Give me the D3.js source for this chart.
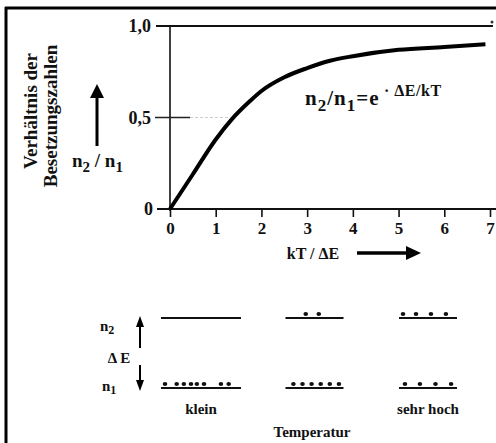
<!DOCTYPE html>
<html>
<head>
<meta charset="utf-8">
<script src="https://cdn.jsdelivr.net/npm/d3@7"></script>
<style>
  body { margin: 0; background: #fff; }
  text { font-family: "Liberation Serif", serif; font-weight: bold; fill: #111; }
</style>
</head>
<body>
<div id="chart"></div>
<script>
// curve n2/n1 against kT/dE
const kT = [0, 0.5, 1, 1.35, 1.75, 2, 2.5, 3, 3.5, 4, 5, 6, 6.9];
const ratio = [0, 0.19, 0.38, 0.49, 0.59, 0.645, 0.72, 0.77, 0.81, 0.835, 0.87, 0.885, 0.9];
const xTicks = [0, 1, 2, 3, 4, 5, 6, 7];
const yTicks = [0, 0.5, 1.0];
const yTickLabels = ["0", "0,5", "1,0"];

// level diagram: temperature groups, dot slots on upper (n2) and lower (n1) level
const groups = ["klein", "mittel", "sehr hoch"];
const groupLabels = ["klein", "", "sehr hoch"];
const upperDots = [[], [2.5, 4.5], [0, 2, 4.3, 6.6]];
const lowerDots = [[0, 1.8, 2.9, 4, 4.9, 6, 8.6, 9.8], [0.6, 2, 3.4, 4.8, 6.2, 7.6], [0.3, 2.6, 5, 7.4]];

const width = 496, height = 443;
const svg = d3.select("#chart").append("svg")
  .attr("width", width).attr("height", height);

// frame (top + left border of the scan)
svg.append("line").attr("x1", 5).attr("x2", width).attr("y1", 8).attr("y2", 8)
  .attr("stroke", "#000").attr("stroke-width", 3);
svg.append("line").attr("x1", 6).attr("x2", 6).attr("y1", 7).attr("y2", height)
  .attr("stroke", "#000").attr("stroke-width", 3);

const x = d3.scaleLinear().domain([0, 7]).range([170, 490]);
const y = d3.scaleLinear().domain([0, 1]).range([209, 26]);

// top line at 1,0
svg.append("line").attr("x1", 156).attr("x2", 493).attr("y1", y(1)).attr("y2", y(1))
  .attr("stroke", "#111").attr("stroke-width", 2);
svg.append("circle").attr("cx", 492).attr("cy", y(1) - 4).attr("r", 1.5).attr("fill", "#333");

// y axis line
svg.append("line").attr("x1", x(0)).attr("x2", x(0)).attr("y1", y(1)).attr("y2", y(0) + 2)
  .attr("stroke", "#111").attr("stroke-width", 1.6);

// 0,5 mark with faint guide
svg.append("line").attr("x1", x(0) - 15).attr("x2", x(0) + 20).attr("y1", y(0.5)).attr("y2", y(0.5))
  .attr("stroke", "#222").attr("stroke-width", 1.5);
svg.append("line").attr("x1", x(0) + 20).attr("x2", x(1.3)).attr("y1", y(0.5)).attr("y2", y(0.5))
  .attr("stroke", "#ccc").attr("stroke-width", 1.2).attr("stroke-dasharray", "3,2");

// x axis
svg.append("line").attr("x1", 157).attr("x2", width).attr("y1", y(0)).attr("y2", y(0))
  .attr("stroke", "#111").attr("stroke-width", 2);
const xAxis = d3.axisBottom(x).tickValues(xTicks).tickFormat(d3.format("d"))
  .tickSize(8).tickSizeOuter(0).tickPadding(5);
const gx = svg.append("g").attr("transform", `translate(0,${y(0)})`).call(xAxis);
gx.select(".domain").remove();
gx.selectAll(".tick line").attr("stroke", "#111").attr("stroke-width", 1.6);
gx.selectAll(".tick text").style("font-size", "17px").attr("fill", "#111")
  .style("font-family", "Liberation Serif, serif").style("font-weight", "bold");

// y tick labels
svg.selectAll(".ylab").data(yTicks).enter().append("text")
  .attr("class", "ylab")
  .attr("x", d => d === 0 ? x(0) - 17 : x(0) - 19)
  .attr("y", d => y(d))
  .attr("dy", "0.35em")
  .attr("text-anchor", "end")
  .style("font-size", "18px")
  .text((d, i) => yTickLabels[i]);

// curve
const pts = kT.map((k, i) => [k, ratio[i]]);
svg.append("path").datum(pts)
  .attr("fill", "none").attr("stroke", "#000").attr("stroke-width", 4)
  .attr("d", d3.line().x(d => x(d[0])).y(d => y(d[1])).curve(d3.curveMonotoneX));

// formula
const f = svg.append("text").attr("x", 305).attr("y", 105)
  .style("font-size", "21px").style("letter-spacing", "1px");
f.append("tspan").text("n");
f.append("tspan").attr("dy", 6).style("font-size", "17px").text("2");
f.append("tspan").attr("dy", -6).text("/n");
f.append("tspan").attr("dy", 6).style("font-size", "17px").text("1");
f.append("tspan").attr("dy", -6).text("=e");
f.append("tspan").attr("dy", -9).style("font-size", "16px").style("letter-spacing", "0.5px").text(" · ΔE/kT");

// y axis title (rotated)
svg.append("text").attr("transform", "translate(37,111) rotate(-90)")
  .attr("text-anchor", "middle").style("font-size", "19px").text("Verhältnis der");
svg.append("text").attr("transform", "translate(57,116) rotate(-90)")
  .attr("text-anchor", "middle").style("font-size", "19px").text("Besetzungszahlen");

// up arrow + n2/n1
svg.append("line").attr("x1", 97).attr("x2", 97).attr("y1", 146).attr("y2", 95)
  .attr("stroke", "#000").attr("stroke-width", 3);
svg.append("path").attr("d", "M90,98 L97,84 L104,98 Z").attr("fill", "#000");
const nl = svg.append("text").attr("x", 72).attr("y", 167).style("font-size", "19px");
nl.append("tspan").text("n");
nl.append("tspan").attr("dy", 5).style("font-size", "15px").text("2");
nl.append("tspan").attr("dy", -5).text(" / n");
nl.append("tspan").attr("dy", 5).style("font-size", "15px").text("1");

// x axis title + arrow
svg.append("text").attr("x", 313).attr("y", 253).attr("dy", "0.35em")
  .attr("text-anchor", "middle").style("font-size", "16px").text("kT / ΔE");
svg.append("line").attr("x1", 357).attr("x2", 410).attr("y1", 253).attr("y2", 253)
  .attr("stroke", "#000").attr("stroke-width", 3.5);
svg.append("path").attr("d", "M406,246 L421,253 L406,260 Z").attr("fill", "#000");

// level diagram
const gpos = d3.scalePoint().domain(groups).range([201, 428]);
const slot = d3.scaleLinear().domain([0, 10]).range([0, 65]);
const upperY = 318, lowerY = 388;
const lineW = g => g === "klein" ? 80 : 58;

const lev = svg.selectAll(".lev").data(groups).enter().append("g")
  .attr("class", "lev")
  .attr("transform", d => `translate(${gpos(d) - lineW(d) / 2},0)`);
lev.append("line").attr("x1", 0).attr("x2", d => lineW(d)).attr("y1", upperY).attr("y2", upperY)
  .attr("stroke", "#111").attr("stroke-width", 2);
lev.append("line").attr("x1", 0).attr("x2", d => lineW(d)).attr("y1", lowerY).attr("y2", lowerY)
  .attr("stroke", "#111").attr("stroke-width", 2);
lev.selectAll(".ud").data((d, i) => upperDots[i]).enter().append("ellipse")
  .attr("cx", d => 4 + slot(d)).attr("cy", upperY - 4).attr("rx", 2.3).attr("ry", 1.9).attr("fill", "#111");
lev.selectAll(".ld").data((d, i) => lowerDots[i]).enter().append("ellipse")
  .attr("cx", d => 4 + slot(d)).attr("cy", lowerY - 4).attr("rx", 2.3).attr("ry", 1.9).attr("fill", "#111");

svg.selectAll(".glab").data(groups).enter().append("text")
  .attr("class", "glab")
  .attr("x", d => gpos(d)).attr("y", 409).attr("dy", "0.35em")
  .attr("text-anchor", "middle").style("font-size", "15px")
  .text((d, i) => groupLabels[i]);
svg.append("text").attr("x", 312).attr("y", 432).attr("dy", "0.35em")
  .attr("text-anchor", "middle").style("font-size", "15px").text("Temperatur");

// level labels and dE arrows
const l2 = svg.append("text").attr("x", 100).attr("y", 331).style("font-size", "15px");
l2.append("tspan").text("n");
l2.append("tspan").attr("dy", 3).style("font-size", "12px").text("2");
const l1 = svg.append("text").attr("x", 102).attr("y", 391).style("font-size", "15px");
l1.append("tspan").text("n");
l1.append("tspan").attr("dy", 3).style("font-size", "12px").text("1");
svg.append("text").attr("x", 119).attr("y", 358).attr("dy", "0.35em")
  .attr("text-anchor", "middle").style("font-size", "15px").text("Δ E");
svg.append("line").attr("x1", 140).attr("x2", 140).attr("y1", 348).attr("y2", 324)
  .attr("stroke", "#000").attr("stroke-width", 2);
svg.append("path").attr("d", "M136,327 L140,316 L144,327 Z").attr("fill", "#000");
svg.append("line").attr("x1", 140).attr("x2", 140).attr("y1", 365).attr("y2", 383)
  .attr("stroke", "#000").attr("stroke-width", 2);
svg.append("path").attr("d", "M136,380 L140,391 L144,380 Z").attr("fill", "#000");
</script>
</body>
</html>
